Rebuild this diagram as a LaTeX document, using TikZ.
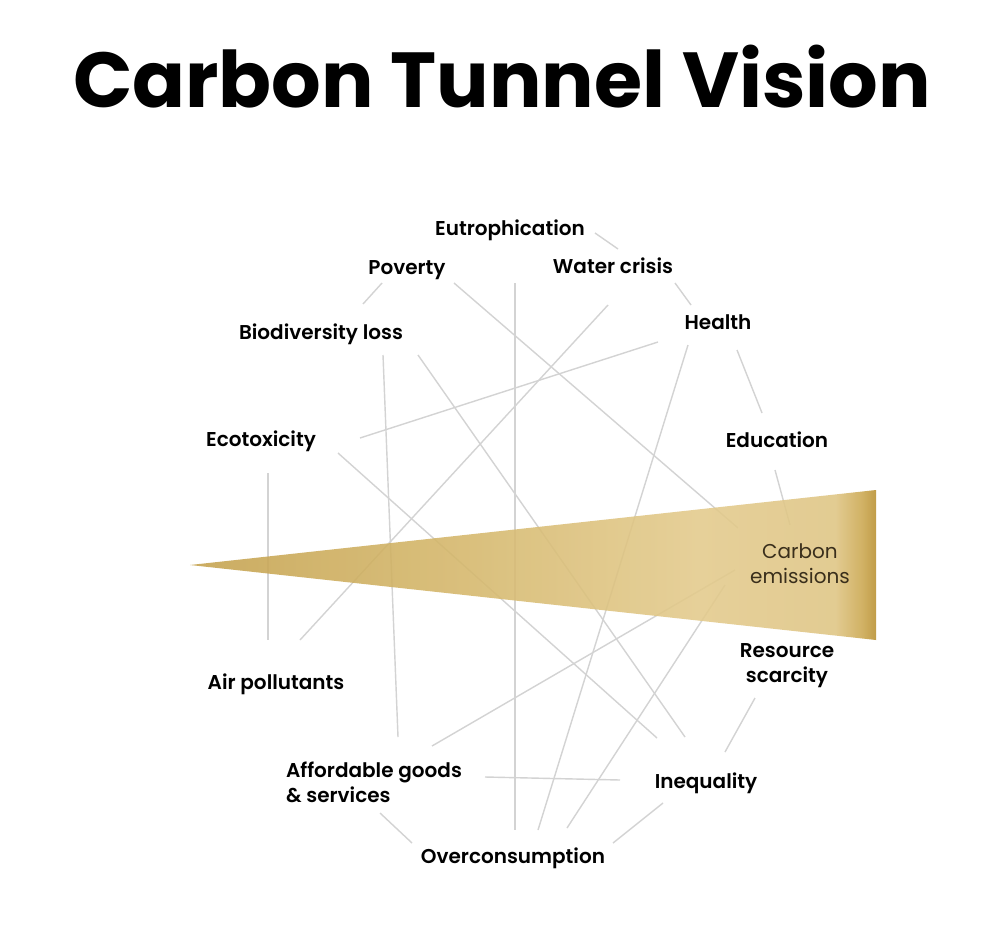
\documentclass[tikz,border=0pt]{standalone}
\usepackage{fontspec}
\setmainfont{Poppins}
\newfontfamily\labfont{Poppins SemiBold}
\definecolor{linegray}{HTML}{D3D3D3}
\definecolor{carbontext}{HTML}{3A2F1C}
\definecolor{tA}{HTML}{C4A14C}
\definecolor{tB}{HTML}{D4B669}
\definecolor{tC}{HTML}{E3CA8B}
\definecolor{tD}{HTML}{DFC584}
\definecolor{tE}{HTML}{CBA74F}
\definecolor{tF}{HTML}{B88F30}
\pgfdeclarehorizontalshading{tunnelshade}{100bp}{color(0bp)=(tA); color(25bp)=(tA); color(44bp)=(tB); color(62bp)=(tC); color(72bp)=(tD); color(74bp)=(tE); color(75bp)=(tF); color(100bp)=(tF)}
\begin{document}
\begin{tikzpicture}[x=1pt,y=-1pt,
  lbl/.style={font=\labfont\fontsize{20}{25}\selectfont, text=black, inner sep=0pt, anchor=base},
  lbl2/.style={font=\labfont\fontsize{20}{25}\selectfont, text=black, inner sep=0pt, anchor=center},
  link/.style={draw=linegray, line width=1.4pt}]
\useasboundingbox (0,0) rectangle (1000,947);
\fill[white] (0,0) rectangle (1000,947);

% title
\node[font=\bfseries\fontsize{78}{90}\selectfont, anchor=base] (title) at (502,108) {Carbon Tunnel Vision};

% labels
\node[lbl] (eut) at (510,235) {Eutrophication};
\node[lbl] (pov) at (407,274) {Poverty};
\node[lbl] (wat) at (613,273) {Water crisis};
\node[lbl] (hea) at (718,329) {Health};
\node[lbl] (bio) at (321,339) {Biodiversity loss};
\node[lbl] (eco) at (261,446) {Ecotoxicity};
\node[lbl] (edu) at (777,447) {Education};
\node[lbl] (air) at (276,689) {Air pollutants};
\node[lbl] (ine) at (706,788) {Inequality};
\node[lbl] (ove) at (513,863) {Overconsumption};
\node[lbl2, align=center] (res) at (787,666) {Resource\\scarcity};
\node[lbl2, align=left] (aff) at (374,782) {Affordable goods\\\& services};

% line end points
\coordinate (eutA) at (595,233); \coordinate (watA) at (618,249);
\coordinate (watB) at (675,283); \coordinate (heaA) at (691,305);
\coordinate (heaB) at (737,350); \coordinate (eduA) at (762,413);
\coordinate (eduB) at (775,470); \coordinate (carA) at (790,525);
\coordinate (povA) at (382,283); \coordinate (bioA) at (363,304);
\coordinate (povB) at (454,283); \coordinate (carB) at (738,528);
\coordinate (eutB) at (515,283); \coordinate (oveA) at (515,830);
\coordinate (watC) at (608,305); \coordinate (airA) at (300,640);
\coordinate (heaC) at (658,342); \coordinate (ecoA) at (360,438);
\coordinate (heaD) at (688,345); \coordinate (oveB) at (538,830);
\coordinate (bioB) at (383,355); \coordinate (affA) at (398,737);
\coordinate (bioC) at (418,355); \coordinate (ineA) at (685,737);
\coordinate (ecoB) at (268,473); \coordinate (airB) at (268,640);
\coordinate (ecoC) at (338,453); \coordinate (ineB) at (657,738);
\coordinate (affB) at (432,746); \coordinate (carC) at (735,570);
\coordinate (oveC) at (567,828); \coordinate (carD) at (725,585);
\coordinate (affC) at (485,777); \coordinate (ineC) at (620,780);
\coordinate (affD) at (380,813); \coordinate (oveD) at (412,843);
\coordinate (ineD) at (663,803); \coordinate (oveE) at (613,843);
\coordinate (resA) at (755,698); \coordinate (ineE) at (725,752);

\draw[link] (eutA) -- (watA);
\draw[link] (watB) -- (heaA);
\draw[link] (heaB) -- (eduA);
\draw[link] (eduB) -- (carA);
\draw[link] (povA) -- (bioA);
\draw[link] (povB) -- (carB);
\draw[link] (eutB) -- (oveA);
\draw[link] (watC) -- (airA);
\draw[link] (heaC) -- (ecoA);
\draw[link] (heaD) -- (oveB);
\draw[link] (bioB) -- (affA);
\draw[link] (bioC) -- (ineA);
\draw[link] (ecoB) -- (airB);
\draw[link] (ecoC) -- (ineB);
\draw[link] (affB) -- (carC);
\draw[link] (oveC) -- (carD);
\draw[link] (affC) -- (ineC);
\draw[link] (affD) -- (oveD);
\draw[link] (ineD) -- (oveE);
\draw[link] (resA) -- (ineE);

% tunnel
\coordinate (tip) at (190,565);
\coordinate (tr) at (876,490);
\coordinate (br) at (876,640);
\shade[shading=tunnelshade, fill opacity=0.88] (tip) -- (tr) -- (br) -- cycle;

\node[lbl2, align=center, text=carbontext, font=\fontsize{20}{25}\selectfont] (car) at (800,564) {Carbon\\emissions};
\end{tikzpicture}
\end{document}
